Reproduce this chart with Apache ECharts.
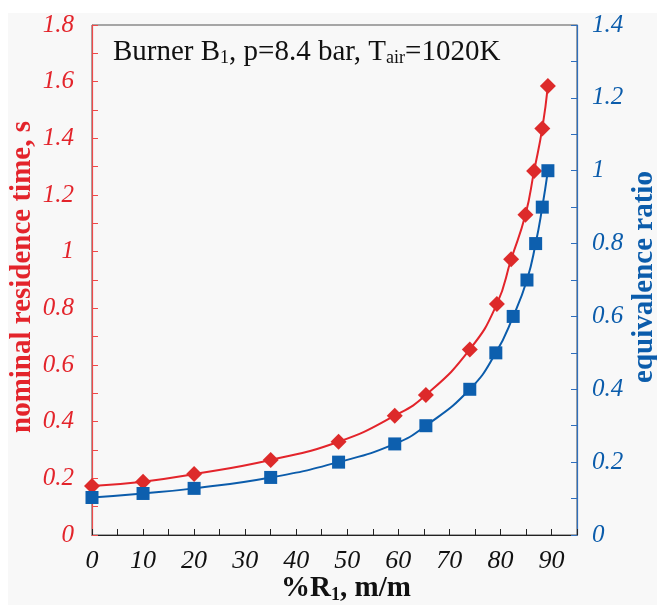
<!DOCTYPE html>
<html>
<head>
<meta charset="utf-8">
<script src="https://cdn.jsdelivr.net/npm/echarts@6/dist/echarts.min.js"></script>
<style>
html,body{margin:0;padding:0;background:#fff;}
#c{width:657px;height:605px;}
</style>
</head>
<body>
<div id="c"></div>
<script>
// Data
var xResidence = [0, 10, 20, 35, 48.3, 59.3, 65.4, 74, 79.3, 82.1, 84.9, 86.6, 88.2, 89.3];
var residenceTime = [0.173, 0.188, 0.215, 0.265, 0.329, 0.421, 0.494, 0.655, 0.815, 0.973, 1.13, 1.285, 1.435, 1.585];
var xEquivalence = [0, 10, 20, 35, 48.3, 59.3, 65.4, 74, 79.1, 82.5, 85.2, 86.9, 88.2, 89.3];
var equivalenceRatio = [0.103, 0.114, 0.128, 0.158, 0.2, 0.25, 0.3, 0.4, 0.5, 0.6, 0.7, 0.8, 0.9, 1.0];
var xTickLabels = [0, 10, 20, 30, 40, 50, 60, 70, 80, 90];
var leftTickLabels = [0, 0.2, 0.4, 0.6, 0.8, 1, 1.2, 1.4, 1.6, 1.8];
var rightTickLabels = [0, 0.2, 0.4, 0.6, 0.8, 1, 1.2, 1.4];

var RED = '#e3242b';
var BLUE = '#0b5cab';
var SERIF = '"Liberation Serif", "DejaVu Serif", serif';

function pairs(xs, ys) { return xs.map(function (x, i) { return [x, ys[i]]; }); }
function labelIn(list) {
  return function (v) {
    for (var i = 0; i < list.length; i++) {
      if (Math.abs(list[i] - v) < 1e-6) return String(list[i]);
    }
    return '';
  };
}

var chart = echarts.init(document.getElementById('c'), null, {renderer: 'canvas'});
chart.setOption({
  backgroundColor: '#ffffff',
  animation: false,
  grid: {left: 92, right: 80, top: 25, bottom: 70, show: true, borderColor: '#555', borderWidth: 1, backgroundColor: 'transparent'},
  xAxis: {
    type: 'value', min: 0, max: 95, interval: 5,
    axisLine: {show: true, lineStyle: {color: '#222', width: 1.2}},
    axisTick: {show: true, inside: true, length: 6, lineStyle: {color: '#222'}},
    splitLine: {show: false},
    axisLabel: {formatter: labelIn(xTickLabels), margin: 13, color: '#111', fontFamily: SERIF, fontStyle: 'italic', fontSize: 26}
  },
  yAxis: [{
    type: 'value', min: 0, max: 1.8, interval: 0.1, position: 'left',
    axisLine: {show: true, lineStyle: {color: '#ef4a4a', width: 1.2}},
    axisTick: {show: true, inside: true, length: 6, lineStyle: {color: '#ef4a4a'}},
    splitLine: {show: false},
    axisLabel: {formatter: labelIn(leftTickLabels), margin: 18, color: RED, fontFamily: SERIF, fontStyle: 'italic', fontSize: 25}
  }, {
    type: 'value', min: 0, max: 1.4, interval: 0.1, position: 'right',
    axisLine: {show: true, lineStyle: {color: '#2f6fbd', width: 1.2}},
    axisTick: {show: true, inside: true, length: 6, lineStyle: {color: '#2f6fbd'}},
    splitLine: {show: false},
    axisLabel: {formatter: labelIn(rightTickLabels), margin: 15, color: BLUE, fontFamily: SERIF, fontStyle: 'italic', fontSize: 25}
  }],
  series: [{
    type: 'line', yAxisIndex: 0, data: pairs(xResidence, residenceTime),
    smooth: 0.5,
    symbol: 'diamond', symbolSize: 16,
    lineStyle: {color: RED, width: 2},
    itemStyle: {color: '#dd2a2a'}
  }, {
    type: 'line', yAxisIndex: 1, data: pairs(xEquivalence, equivalenceRatio),
    smooth: 0.5,
    symbol: 'rect', symbolSize: 13,
    lineStyle: {color: BLUE, width: 2},
    itemStyle: {color: '#0d5fae'}
  }],
  graphic: [
    {type: 'rect', z: -10, silent: true, shape: {x: 8, y: 13, width: 649, height: 592}, style: {fill: '#f8f8f8'}},
    {type: 'text', x: 113, y: 52, silent: true, style: {
      text: '{n|Burner B}{s|1}{n|, p=8.4 bar, T}{s|air}{n|=1020K}',
      textVerticalAlign: 'middle',
      rich: {
        n: {fontFamily: SERIF, fontSize: 29, lineHeight: 34, fill: '#111'},
        s: {fontFamily: SERIF, fontSize: 18, lineHeight: 20, padding: [12, 0, 0, 0], fill: '#111'}
      }
    }},
    {type: 'text', x: 346, y: 589, silent: true, style: {
      text: '{n|%R}{s|1}{n|, m/m}',
      textAlign: 'center', textVerticalAlign: 'middle',
      rich: {
        n: {fontFamily: SERIF, fontWeight: 'bold', fontSize: 29, lineHeight: 34, fill: '#111'},
        s: {fontFamily: SERIF, fontWeight: 'bold', fontSize: 18, lineHeight: 20, padding: [12, 0, 0, 0], fill: '#111'}
      }
    }},
    {type: 'text', x: 23, y: 277, rotation: Math.PI / 2, silent: true, style: {
      text: 'nominal residence time, s', textAlign: 'center', textVerticalAlign: 'middle',
      fontFamily: SERIF, fontWeight: 'bold', fontSize: 29, fill: RED
    }},
    {type: 'text', x: 645, y: 277, rotation: Math.PI / 2, silent: true, style: {
      text: 'equivalence ratio', textAlign: 'center', textVerticalAlign: 'middle',
      fontFamily: SERIF, fontWeight: 'bold', fontSize: 29, fill: BLUE
    }}
  ]
});
</script>
</body>
</html>
